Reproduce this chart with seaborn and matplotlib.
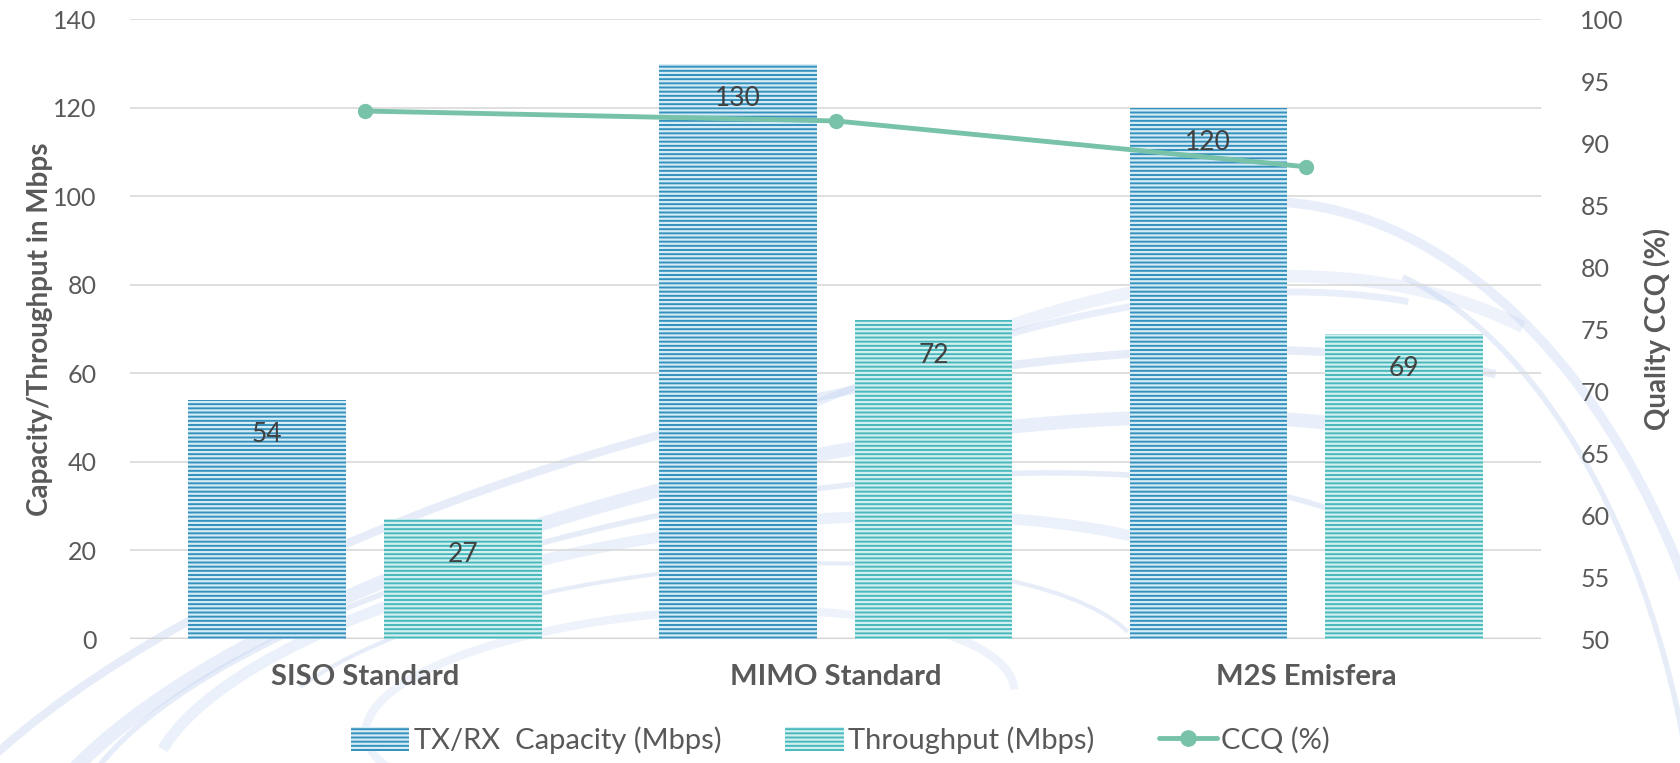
import numpy as np
import pandas as pd
import matplotlib
matplotlib.use("Agg")
import matplotlib.pyplot as plt
import seaborn as sns
from matplotlib.patches import Patch, Arc
from matplotlib.lines import Line2D

# data
categories = ["SISO Standard", "MIMO Standard", "M2S Emisfera"]
capacity = [54, 130, 120]
throughput = [27, 72, 69]
ccq = [92.6, 91.8, 88.1]

series_names = ["TX/RX  Capacity (Mbps)", "Throughput (Mbps)"]

sns.set_style("white")
plt.rcParams['font.family'] = ['Lato', 'DejaVu Sans']
plt.rcParams['hatch.linewidth'] = 1.6

df = pd.DataFrame({
    'category': categories * 2,
    'value': capacity + throughput,
    'series': [series_names[0]] * 3 + [series_names[1]] * 3,
})

face = {series_names[0]: '#3490bd', series_names[1]: '#48b8bc'}
stripe = {series_names[0]: '#d5ecf6', series_names[1]: '#d3f0f0'}
line_color = '#78c2a9'

fig = plt.figure(figsize=(16.81, 7.63), dpi=100)

# faint swirl decoration behind the chart
bg = fig.add_axes([0, 0, 1, 1], zorder=-1)
bg.set_xlim(0, 1681)
bg.set_ylim(763, 0)
bg.axis('off')
swirl = [
    ((800, 760), 1900, 700, -14, 175, 345, 6, 0.35),
    ((820, 740), 1650, 560, -12, 178, 340, 10, 0.30),
    ((760, 730), 1400, 460, -10, 180, 350, 4, 0.35),
    ((720, 720), 1150, 380, -8, 185, 345, 8, 0.28),
    ((700, 715), 900, 290, -6, 190, 355, 3, 0.35),
    ((690, 712), 650, 200, -4, 160, 360, 6, 0.25),
    ((950, 760), 1500, 760, -25, 255, 340, 5, 0.30),
    ((1050, 800), 1400, 900, -30, 275, 345, 9, 0.25),
    ((1300, 900), 900, 1400, -5, 270, 360, 7, 0.30),
    ((1350, 880), 700, 1250, -5, 280, 360, 4, 0.35),
]
for c, w, h, ang, t1, t2, lw, a in swirl:
    bg.add_patch(Arc(c, w, h, angle=ang, theta1=t1, theta2=t2,
                     color='#b9cdf0', lw=lw, alpha=a))

ax = fig.add_axes([0.0772, 0.1625, 0.8398, 0.8122])
ax.patch.set_alpha(0)

sns.barplot(data=df, x='category', y='value', hue='series', palette=face,
            width=0.832, gap=0.195, ax=ax, legend=False, saturation=1)

# striped bars with value labels
for i, cont in enumerate(ax.containers):
    name = series_names[i]
    for bar in cont:
        bar.set_hatch('----')
        bar.set_edgecolor(stripe[name])
        bar.set_linewidth(0)
    for bar, v in zip(cont, cont.datavalues):
        ax.annotate(f'{v:g}', (bar.get_x() + bar.get_width() / 2, bar.get_height()),
                    xytext=(0, -25), textcoords='offset points',
                    ha='center', va='center', fontsize=19, color='#404040')

ax.set_ylim(0, 140)
ax.set_yticks(np.arange(0, 141, 20))
ax.set_xlim(-0.5, 2.5)
ax.yaxis.grid(True, color='#d9d9d9', linewidth=1.2)
ax.set_axisbelow(True)
for s in ax.spines.values():
    s.set_visible(False)
ax.axhline(0, color='#bfbfbf', linewidth=2.5, zorder=0.5)
ax.tick_params(axis='y', length=0, labelsize=18, labelcolor='#595959', pad=24)
ax.tick_params(axis='x', length=0, labelsize=21, labelcolor='#595959', pad=18)
for t in ax.get_xticklabels():
    t.set_fontweight('bold')
ax.set_xlabel('')
ax.set_ylabel('Capacity/Throughput in Mbps', fontsize=20, fontweight='bold',
              color='#595959', labelpad=0)

ax2 = ax.twinx()
sns.lineplot(x=np.arange(len(categories)), y=ccq, ax=ax2, color=line_color,
             linewidth=3.5, marker='o', markersize=11, markeredgewidth=0,
             legend=False)
ax2.set_ylim(50, 100)
ax2.set_yticks(np.arange(50, 101, 5))
for s in ax2.spines.values():
    s.set_visible(False)
ax2.tick_params(axis='y', length=0, labelsize=18, labelcolor='#595959', pad=28)
ax2.set_ylabel('Quality CCQ (%)', fontsize=20, fontweight='bold',
               color='#595959', labelpad=14)
ax2.grid(False)

handles = [
    Patch(facecolor=face[series_names[0]], edgecolor=stripe[series_names[0]],
          hatch='----', linewidth=0),
    Patch(facecolor=face[series_names[1]], edgecolor=stripe[series_names[1]],
          hatch='----', linewidth=0),
    Line2D([0], [0], color=line_color, linewidth=3.5, marker='o', markersize=11),
]
fig.legend(handles, series_names + ['CCQ (%)'], loc='center',
           bbox_to_anchor=(0.5, 0.03), ncol=3, frameon=False, fontsize=21,
           labelcolor='#595959', handlelength=2.0, handleheight=0.9,
           handletextpad=0.15, columnspacing=2.2)

fig.savefig('out.png', dpi=100)
